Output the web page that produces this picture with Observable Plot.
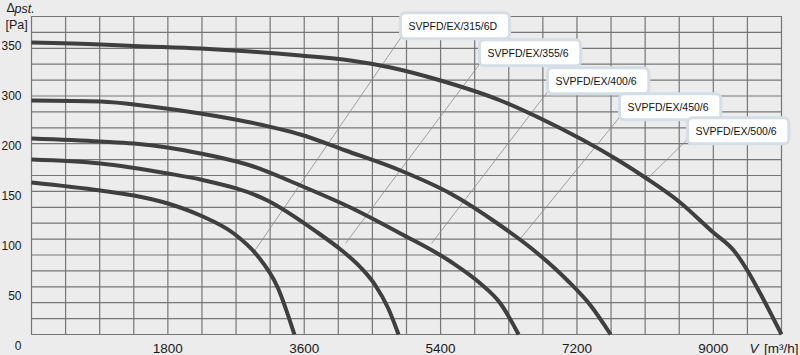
<!DOCTYPE html>
<html>
<head>
<meta charset="utf-8">
<script src="https://cdn.jsdelivr.net/npm/d3@7"></script>
<script src="https://cdn.jsdelivr.net/npm/@observablehq/plot@0.6"></script>
<style>
  html, body { margin: 0; padding: 0; background: #ececec; }
  #chart svg { display: block; }
</style>
</head>
<body>
<div id="chart"></div>
<script>
// ---- data ----
const models = ["SVPFD/EX/315/6D", "SVPFD/EX/355/6", "SVPFD/EX/400/6", "SVPFD/EX/450/6", "SVPFD/EX/500/6"];

const flow315 = [0, 910, 1350, 1800, 2230, 2670, 2980, 3250, 3470];
const dp315   = [152, 144, 139, 131, 119, 101, 79, 47, 0];

const flow355 = [0, 910, 1800, 2230, 3115, 3775, 4080, 4345, 4540, 4710, 4845];
const dp355   = [175, 171, 161, 155, 134, 102, 85, 67, 49, 26, 0];

const flow400 = [0, 910, 1350, 1795, 2230, 2890, 3550, 4210, 4870, 5530, 5925, 6190, 6430];
const dp400   = [196, 193, 191, 187, 181, 169, 149, 127, 101, 73, 51, 31, 0];

const flow450 = [0, 910, 1570, 2230, 2890, 3550, 4145, 4870, 5530, 6190, 6585, 7075, 7380, 7645];
const dp450   = [234, 233, 228, 221, 212, 200, 184, 164, 141, 109, 87, 54, 29, 0];

const flow500 = [0, 910, 1350, 2230, 2890, 3550, 4210, 4740, 5400, 6190, 6720, 7750, 8100, 8530, 9000, 9270, 9450, 9620, 9900];
const dp500   = [292, 290, 288.5, 286, 283, 279, 274, 267, 254, 234, 216, 174, 157, 134, 102, 84, 64, 41, 0];

// callout label anchors and the points where their leader lines end
const labelFlow = [4976, 6019, 6917, 7867, 8765];
const labelDp   = [308, 281, 253, 227, 203];
const pointFlow = [2930, 4145, 5280, 6455, 8105];
const pointDp   = [82, 91, 91, 96, 154];

// axes
const xTicks = [1800, 3600, 5400, 7200, 9000];
const yTicks = [0, 50, 100, 150, 200, 250, 300];
const yTickLabels = ["0", "50", "100", "150", "200", "300", "350"];
const xMax = 9900, yMax = 318, xStep = 450, yRows = 20;

// ---- build tables ----
const flows = [flow315, flow355, flow400, flow450, flow500];
const dps = [dp315, dp355, dp400, dp450, dp500];
const curves = models.flatMap((m, i) => flows[i].map((f, j) => ({model: m, flow: f, dp: dps[i][j]})));
const callouts = models.map((m, i) => ({model: m, lx: labelFlow[i], ly: labelDp[i], px: pointFlow[i], py: pointDp[i]}));
const yLabel = new Map(yTicks.map((t, i) => [t, yTickLabels[i]]));
const xGrid = d3.range(0, xMax + 1, xStep);
const yGrid = d3.range(yRows + 1).map(i => i * yMax / yRows);

const font = "'Liberation Sans', Arial, sans-serif";
const gridColor = "#767676";

const chart = Plot.plot({
  width: 800,
  height: 355,
  marginLeft: 31,
  marginRight: 19,
  marginTop: 16,
  marginBottom: 21,
  style: {background: "#ececec", fontFamily: font, color: "#1a1a1a"},
  x: {domain: [0, xMax]},
  y: {domain: [0, yMax]},
  marks: [
    Plot.ruleX(xGrid, {stroke: gridColor, strokeWidth: 1.2}),
    Plot.ruleY(yGrid, {stroke: gridColor, strokeWidth: 1.2}),
    Plot.axisX(xTicks, {tickSize: 0, tickPadding: 9, fontSize: 13.5, fill: "#1a1a1a", tickFormat: d => String(d)}),
    Plot.axisY(yTicks, {tickSize: 0, tickPadding: 10, dy: 12, fontSize: 12, fill: "#1a1a1a", tickFormat: d => yLabel.get(d)}),
    Plot.link(callouts, {x1: "px", y1: "py", x2: "lx", y2: "ly", stroke: "#8a8a8a", strokeWidth: 0.8}),
    Plot.line(curves, {x: "flow", y: "dp", z: "model", curve: "monotone-x", stroke: "#3f3f3f", strokeWidth: 4, strokeLinecap: "butt"}),
    Plot.text(callouts, {x: "lx", y: "ly", text: "model", textAnchor: "start", lineAnchor: "middle", fontSize: 10.5, fill: "#111", ariaLabel: "callouts"}),
    Plot.text(["V"], {frameAnchor: "bottom-right", dx: -23, dy: 14, textAnchor: "end", lineAnchor: "middle", fontSize: 13.5, fontStyle: "italic"}),
    Plot.text(["[m³/h]"], {frameAnchor: "bottom-right", dx: 17, dy: 14, textAnchor: "end", lineAnchor: "middle", fontSize: 13.5}),
    Plot.text(["Δ"], {frameAnchor: "top-left", dx: -25, dy: -9, textAnchor: "start", lineAnchor: "middle", fontSize: 12.5}),
    Plot.text(["pst."], {frameAnchor: "top-left", dx: -17, dy: -8, textAnchor: "start", lineAnchor: "middle", fontSize: 12.5, fontStyle: "italic"}),
    Plot.text(["[Pa]"], {frameAnchor: "top-left", dx: -26, dy: 8, textAnchor: "start", lineAnchor: "middle", fontSize: 12.5})
  ]
});

document.getElementById("chart").append(chart);

// white rounded callout boxes behind the label texts
const svgBox = chart.getBoundingClientRect();
let calloutG = chart.querySelector('g[aria-label="callouts"]');
if (!calloutG) {
  const t = Array.from(chart.querySelectorAll("text")).find(e => e.textContent === models[0]);
  calloutG = t ? t.parentNode : null;
}
if (calloutG) {
  const layer = document.createElementNS("http://www.w3.org/2000/svg", "g");
  calloutG.parentNode.insertBefore(layer, calloutG);
  calloutG.querySelectorAll("text").forEach(t => {
    const r = t.getBoundingClientRect();
    d3.select(layer).append("rect")
      .attr("x", r.left - svgBox.left - 8)
      .attr("y", r.top - svgBox.top - 7)
      .attr("width", r.width + 20)
      .attr("height", r.height + 14)
      .attr("rx", 5)
      .attr("fill", "#ffffff")
      .attr("stroke", "#d3dee8")
      .attr("stroke-width", 3);
  });
}
</script>
</body>
</html>
